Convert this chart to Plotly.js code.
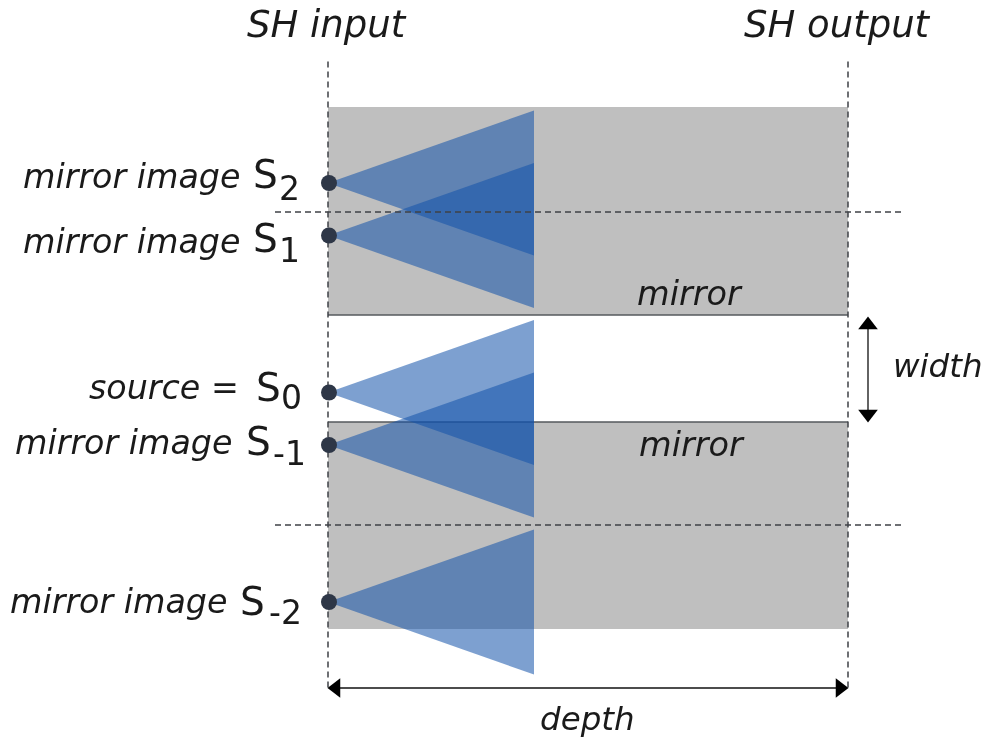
<!DOCTYPE html>
<html><head><meta charset="utf-8">
<script src="https://cdn.plot.ly/plotly-3.0.1.min.js"></script>
<style>html,body{margin:0;padding:0;background:#fff}#g{width:987px;height:740px;filter:blur(0.4px)}</style>
</head><body><div id="g"></div>
<script>
// Geometry in diagram units: x = distance from the SH input plane, y = height above the source axis
const W = 987, H = 740, X0 = 328, Y0 = 392.5;
const depth = 520;
const beamLength = 206;
const beamHalfHeight = 72.5;
const sourceNames = ['S2','S1','S0','S-1','S-2'];
const sourceHeights = [209.5, 157, 0, -52.5, -209.5];
const upperMirror = [77.5, 285.5];
const lowerMirror = [-236.5, -29.5];
const guideTop = 331, guideBottom = -297.5;
const planeHeights = [180.5, -132.5];
const inputLabels = ['SH input', 'SH output'];

const traces = [];
const rect = (ys) => ({x:[0,depth,depth,0,0], y:[ys[0],ys[0],ys[1],ys[1],ys[0]], mode:'none', fill:'toself',
  fillcolor:'#bfbfbf', hoverinfo:'skip'});
traces.push(rect(upperMirror), rect(lowerMirror));
// mirror edges
traces.push({x:[0,depth], y:[upperMirror[0],upperMirror[0]], mode:'lines', line:{color:'#55585c',width:1.6}});
traces.push({x:[0,depth], y:[lowerMirror[1],lowerMirror[1]], mode:'lines', line:{color:'#55585c',width:1.6}});
// beams
sourceHeights.forEach(h => traces.push({
  x:[0,beamLength,beamLength,0], y:[h,h+beamHalfHeight,h-beamHalfHeight,h],
  mode:'none', fill:'toself', fillcolor:'rgba(18,82,170,0.55)', hoverinfo:'skip'}));
// dashed guides
const dash = {color:'#3f4247', width:1.5, dash:'6px,4px'};
[0,depth].forEach(x => traces.push({x:[x,x], y:[guideTop,guideBottom], mode:'lines', line:dash}));
planeHeights.forEach(y => traces.push({x:[-53,574], y:[y,y], mode:'lines', line:dash}));
// sources
traces.push({x:sourceHeights.map(()=>1), y:sourceHeights, text:sourceNames, mode:'markers',
  marker:{size:16,color:'#2e3747'}});
// dimension arrows
traces.push({x:[8,depth-8], y:[-295.5,-295.5], mode:'lines+markers', line:{color:'#111',width:1.4},
  marker:{symbol:['triangle-left','triangle-right'],size:17,color:'#000'}});
traces.push({x:[540,540], y:[67.5,-21.5], mode:'lines+markers', line:{color:'#222',width:1.4},
  marker:{symbol:['triangle-up','triangle-down'],size:17,color:'#000'}});

const face = 'DejaVu Sans';
const ann = (t,px,py,size,anchor,upright) => ({text:upright?t:'<i>'+t+'</i>', xref:'paper', yref:'paper',
  x:px/W, y:1-py/H, xanchor:anchor, yanchor:'middle', showarrow:false,
  font:{family:face,size:size,color:'#1a1a1a'}, borderpad:0, borderwidth:0});
const annotations = [
  ann(inputLabels[0],327,24,37,'center'), ann(inputLabels[1],837,24,37,'center'),
  ann('mirror',690,293,33.5,'center'), ann('mirror',692,444,33.5,'center'),
  ann('width',938,366,32.5,'center'), ann('depth',587,719,32.5,'center'),
];
// text, right edge, y, S left, S y, subscript left, subscript y
[['mirror image','2',240,176,253,174,279,188],
 ['mirror image','1',240,241,253,238,279,251],
 ['source =','0',239,387,256,387,281,398],
 ['mirror image','-1',232,442,246,441,273,454],
 ['mirror image','-2',227,601,240,601,269,612]].forEach(r => {
  annotations.push(ann(r[0],r[2],r[3],33.3,'right'));
  annotations.push(ann('S',r[4],r[5],39,'left',true));
  annotations.push(ann(r[1],r[6],r[7],33,'left',true));
});

Plotly.newPlot('g', traces, {
  width:W, height:H, margin:{l:0,r:0,t:0,b:0}, showlegend:false,
  paper_bgcolor:'#fff', plot_bgcolor:'#fff',
  xaxis:{range:[-X0,W-X0],visible:false,fixedrange:true},
  yaxis:{range:[Y0-H,Y0],visible:false,fixedrange:true},
  annotations
},{displayModeBar:false,staticPlot:true});
</script></body></html>
